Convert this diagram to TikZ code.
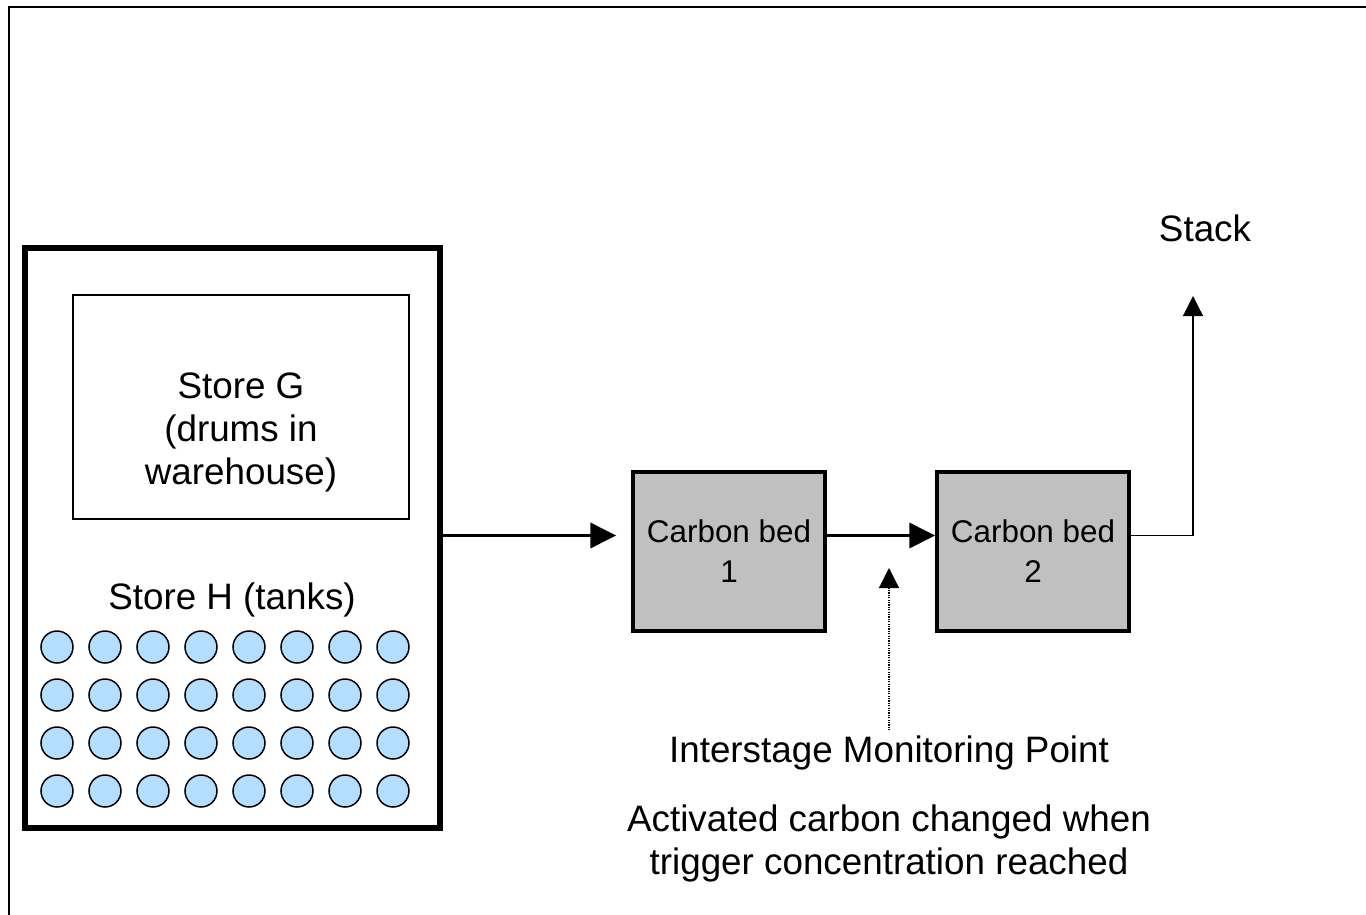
\documentclass[tikz,border=0pt]{standalone}
\usepackage{fontspec}
\setmainfont{Liberation Sans}
\usetikzlibrary{arrows.meta}
\usetikzlibrary{calc}

\definecolor{tankblue}{RGB}{179,222,255}
\definecolor{bedgray}{RGB}{192,192,192}

\begin{document}
\begin{tikzpicture}[x=0.5pt,y=-0.5pt,
    big/.style={font=\fontsize{18.4}{21.5}\selectfont,align=center,inner sep=0pt},
    bed/.style={draw,line width=1.7pt,fill=bedgray,minimum width=96pt,minimum height=79.5pt,align=center,font=\fontsize{15.7}{20}\selectfont},
    tank/.style={circle,draw,line width=0.75pt,fill=tankblue,minimum size=16pt,inner sep=0pt},
    flow/.style={line width=1.8pt,-{Triangle[length=13pt,width=12.5pt]}},
    thinflow/.style={line width=0.6pt,-{Triangle[length=10pt,width=10pt]}}]
            \useasboundingbox (0,0) rectangle (1366,915);
            \draw[line width=1pt] (8.5,915) -- (8.5,7) -- (1366,7);
            \node[draw,line width=3pt,minimum width=207.5pt,minimum height=290pt] (site) at (232.4,538) {};
            \node[draw,line width=1pt,minimum width=168.3pt,minimum height=112pt] (storeG) at (241,407) {};
            \node[big] (storeGlabel) at (241,432) {Store G\\(drums in\\warehouse)};
            \node[big] (storeHlabel) at (232,600) {Store H (tanks)};
            \foreach \i in {0,...,7}
            {
                \foreach \j in {0,...,3}
                {
                    \node[tank] (tank\i\j) at ({57+48*\i},{647+48*\j}) {};
                }
            }
            \node[bed] (bedA) at (729,551.5) {Carbon bed\\1};
            \node[bed] (bedB) at (1033,551.5) {Carbon bed\\2};
            \node[big] (stack) at (1205,228) {Stack};
            \coordinate (stackTip) at (1193,296);
            \node[big] (monitor) at (889,753) {Interstage Monitoring Point};
            \coordinate (monitorTip) at (889,568);
            \node[big] (trigger) at (889,843) {Activated carbon changed when\\trigger concentration reached};
            \draw[flow] ($(site.east |- bedA.west)+(0,-16)$) -- ($(bedA.west)+(-15,-16)$);
            \draw[flow] ($(bedA.east)+(0,-16)$) -- ($(bedB.west)+(0,-16)$);
            \draw[thinflow] ($(bedB.east)+(0,-16)$) -| (stackTip);
            \draw[thinflow,dash pattern={on 0.6pt off 0.6pt}] ($(monitor.north)+(0,-5)$) -- (monitorTip);
        \end{tikzpicture}
\end{document}
